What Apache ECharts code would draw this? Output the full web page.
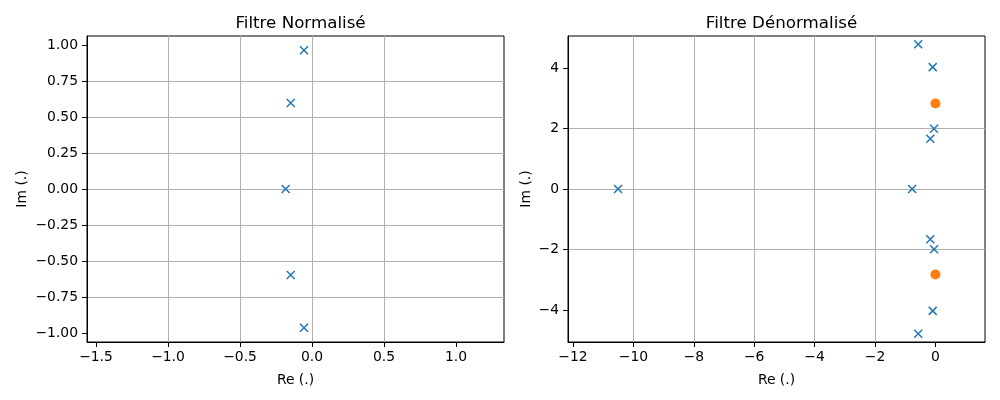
<!DOCTYPE html>
<html>
<head>
<meta charset="utf-8">
<script src="https://cdn.jsdelivr.net/npm/echarts@6/dist/echarts.min.js"></script>
<style>
html,body{margin:0;padding:0;background:#fff;}
#c{width:1000px;height:400px;}
</style>
</head>
<body>
<div id="c"></div>
<script>
// ---- Data ----
const titles = ['Filtre Normalisé', 'Filtre Dénormalisé'];
const xName = 'Re (.)';
const yName = 'Im (.)';

// Normalised poles
const normPolesRe = [-0.056, -0.148, -0.183, -0.148, -0.056];
const normPolesIm = [0.963, 0.597, 0.0, -0.597, -0.963];

// Denormalised poles
const denPolesRe = [-10.51, -0.77, -0.57, -0.09, -0.045, -0.17, -0.17, -0.045, -0.09, -0.57];
const denPolesIm = [0.0, 0.0, 4.79, 4.03, 1.99, 1.66, -1.66, -1.99, -4.03, -4.79];

// Denormalised zeros
const denZerosRe = [0.0, 0.0];
const denZerosIm = [2.83, -2.83];

// Tick values
const leftXTicks = [-1.5, -1.0, -0.5, 0.0, 0.5, 1.0];
const leftYTicks = [-1.0, -0.75, -0.5, -0.25, 0.0, 0.25, 0.5, 0.75, 1.0];
const rightXTicks = [-12, -10, -8, -6, -4, -2, 0];
const rightYTicks = [-4, -2, 0, 2, 4];

// ---- Styling ----
const FONT = 'DejaVu Sans';
const BLUE = '#1f77b4';
const ORANGE = '#ff7f0e';
const GRID = '#b0b0b0';

function fmt(dec) {
  return function (v) {
    const s = Math.abs(v).toFixed(dec);
    return (v < -1e-9 ? '\u2212' : '') + s;
  };
}
function pairs(xs, ys) { return xs.map((x, i) => [x, ys[i]]); }

const grids = [
  {left: 87, top: 36, width: 417, height: 306},
  {left: 568, top: 36, width: 417, height: 306}
];

function mkX(idx, min, max, ticks, dec) {
  return {
    type: 'value', gridIndex: idx, min: min, max: max,
    name: xName, nameLocation: 'middle', nameGap: 31,
    nameTextStyle: {fontFamily: FONT, fontSize: 13.9, color: '#000'},
    axisLine: {show: true, onZero: false, lineStyle: {color: '#000', width: 1}},
    axisTick: {show: true, inside: false, length: 5, lineStyle: {color: '#000', width: 1}, customValues: ticks},
    axisLabel: {show: true, margin: 8, fontFamily: FONT, fontSize: 13.9, color: '#000', customValues: ticks, formatter: fmt(dec)},
    splitLine: {show: true, showMinLine: false, showMaxLine: false, lineStyle: {color: GRID, width: 1}}
  };
}
function mkY(idx, min, max, ticks, dec, gap) {
  return {
    type: 'value', gridIndex: idx, min: min, max: max,
    name: yName, nameLocation: 'middle', nameGap: gap, nameRotate: 90,
    nameTextStyle: {fontFamily: FONT, fontSize: 13.9, color: '#000'},
    axisLine: {show: true, onZero: false, lineStyle: {color: '#000', width: 1}},
    axisTick: {show: true, inside: false, length: 5, lineStyle: {color: '#000', width: 1}, customValues: ticks},
    axisLabel: {show: true, margin: 9, fontFamily: FONT, fontSize: 13.9, color: '#000', customValues: ticks, formatter: fmt(dec)},
    splitLine: {show: true, showMinLine: false, showMaxLine: false, lineStyle: {color: GRID, width: 1}}
  };
}

const xSym = 'path://M0,0L10,10M10,0L0,10';
function crossSeries(xi, yi, data) {
  return {
    type: 'scatter', xAxisIndex: xi, yAxisIndex: yi, data: data,
    symbol: xSym, symbolSize: 8, silent: true,
    itemStyle: {color: 'none', borderColor: BLUE, borderWidth: 1.5, opacity: 1},
    z: 3
  };
}

const chart = echarts.init(document.getElementById('c'), null, {renderer: 'canvas'});
chart.setOption({
  animation: false,
  backgroundColor: '#fff',
  title: [
    {text: titles[0], left: 295.5, top: 10, textAlign: 'center',
     textStyle: {fontFamily: FONT, fontSize: 16.7, fontWeight: 'normal', color: '#000'}},
    {text: titles[1], left: 776.5, top: 10, textAlign: 'center',
     textStyle: {fontFamily: FONT, fontSize: 16.7, fontWeight: 'normal', color: '#000'}}
  ],
  grid: grids.map(g => Object.assign({show: true, borderColor: '#000', borderWidth: 1, backgroundColor: '#fff', containLabel: false}, g)),
  xAxis: [
    mkX(0, -1.5625, 1.333, leftXTicks, 1),
    mkX(1, -12.166, 1.642, rightXTicks, 0)
  ],
  yAxis: [
    mkY(0, -1.0625, 1.0625, leftYTicks, 2, 58),
    mkY(1, -5.06, 5.06, rightYTicks, 0, 35)
  ],
  series: [
    crossSeries(0, 0, pairs(normPolesRe, normPolesIm)),
    crossSeries(1, 1, pairs(denPolesRe, denPolesIm)),
    {
      type: 'scatter', xAxisIndex: 1, yAxisIndex: 1,
      data: pairs(denZerosRe, denZerosIm),
      symbol: 'circle', symbolSize: 10, silent: true,
      itemStyle: {color: ORANGE, opacity: 1}, z: 4
    }
  ]
});
</script>
</body>
</html>
